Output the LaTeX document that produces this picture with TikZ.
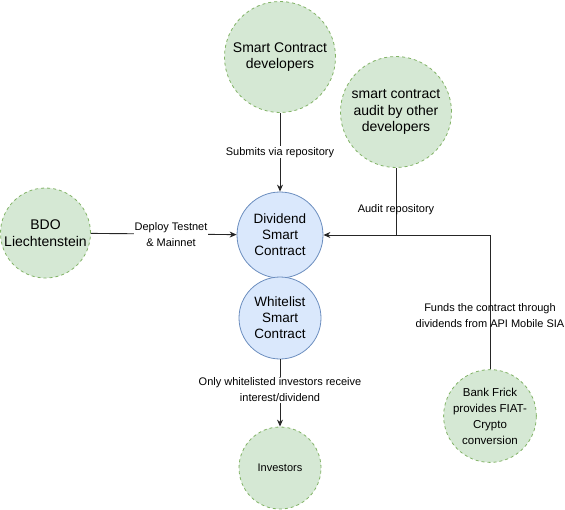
\documentclass[tikz,border=0pt]{standalone}
\usepackage{fontspec}
\setmainfont{Liberation Sans}
\usetikzlibrary{arrows.meta}
\definecolor{greenfill}{HTML}{D5E8D4}
\definecolor{greenline}{HTML}{82B366}
\definecolor{bluefill}{HTML}{DAE8FC}
\definecolor{blueline}{HTML}{6C8EBF}
\begin{document}
\begin{tikzpicture}[x=1pt, y=-1pt,
    party/.style={circle, draw=greenline, fill=greenfill, dash pattern=on 3pt off 3pt,
      line width=0.8pt, inner sep=0pt, minimum size=#1, align=center,
      font=\fontsize{14}{16.5}\selectfont},
    contract/.style={circle, draw=blueline, fill=bluefill, line width=0.8pt,
      inner sep=0pt, minimum size=#1, align=center, font=\fontsize{13.5}{16}\selectfont},
    flow/.style={-{Stealth[length=7pt, width=6pt]}, line width=0.9pt, draw=black!85},
    lbl/.style={font=\fontsize{11}{16}\selectfont, align=center, inner sep=1pt}
  ]
  \useasboundingbox (0,0) rectangle (565,509);
  % the people around the contract
  \node[party=111pt] (devs) at (280,57) {Smart Contract\\developers};
  \node[party=111pt] (audit) at (396,112) {smart contract\\audit by other\\developers};
  \node[party=90pt] (bdo) at (45.5,233) {BDO\\Liechtenstein};
  \node[party=82pt, font=\fontsize{11}{14}\selectfont] (inv) at (280,468) {Investors};
  \node[party=78pt, font=\fontsize{11.5}{16}\selectfont] (bank) at (490,416) {Bank Frick\\provides FIAT-\\Crypto\\conversion};
  % the two contracts
  \node[contract=86pt] (div) at (280,235) {Dividend\\Smart\\Contract};
  \node[contract=82pt] (white) at (280,318) {Whitelist\\Smart\\Contract};
  % connectors
  \coordinate (join) at (audit.south |- div.east);
  \draw[flow] (devs) -- node[lbl, fill=white] {Submits via repository} (div);
  \draw[flow] (bdo) -- node[lbl, fill=white, pos=0.55] {Deploy Testnet\\\& Mainnet} (div);
  \draw[line width=0.9pt, draw=black!85] (audit) -- node[lbl, pos=0.62] {Audit repository} (join);
  \draw[flow] (bank) |- node[lbl, pos=0.2] {Funds the contract through\\dividends from API Mobile SIA} (div);
  \draw[flow] (white) -- node[lbl, fill=white, pos=0.45] {Only whitelisted investors receive\\interest/dividend} (inv);
\end{tikzpicture}
\end{document}
